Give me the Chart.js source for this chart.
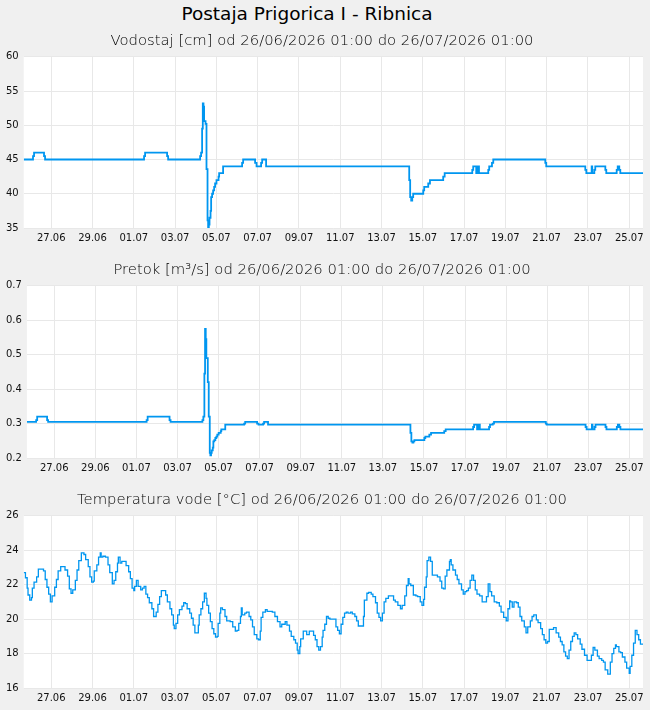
<!DOCTYPE html>
<html>
<head>
<meta charset="utf-8">
<script src="https://cdn.jsdelivr.net/npm/chart.js@4.4.1/dist/chart.umd.min.js"></script>
<style>
  body { margin: 0; background: #f0f0f0; font-family: "DejaVu Sans", sans-serif; }
  #main { width: 614px; height: 26px; line-height: 28px; text-align: center; font-size: 18.5px; color: #000; }
  canvas { display: block; }
</style>
</head>
<body>
<div id="main">Postaja Prigorica I - Ribnica</div>
<canvas id="levelChart" width="650" height="229"></canvas>
<canvas id="flowChart" width="650" height="230"></canvas>
<canvas id="tempChart" width="650" height="225"></canvas>
<script>
// hours since 26/06/2026 01:00
const tickHours = [32, 80, 128, 176, 224, 272, 320, 368, 416, 464, 512, 560, 608, 656, 704];
const tickLabels = ['27.06', '29.06', '01.07', '03.07', '05.07', '07.07', '09.07', '11.07',
                    '13.07', '15.07', '17.07', '19.07', '21.07', '23.07', '25.07'];

// step points: value holds from this hour until the next one
const levelHours = [0, 10.8, 12, 23.6, 24.8, 139.9, 141.1, 166.7, 167.9,
  205.1, 206.2, 207.4, 208.2, 209, 209.7, 211.4, 212.5, 213.7, 214.4,
  215.2, 216, 217.2, 217.9, 219, 220.2, 221.4, 222.5, 224.1, 226.5,
  227.2, 231.8, 253.9, 255.1, 269, 270.7, 276, 277.2, 281.8,
  448.2, 449.3, 450.5, 451.7, 452.8, 464.5, 465.6, 470.3, 472.3,
  487.7, 489.4, 521.5, 522.6, 526.1, 528.1, 529.3,
  540.1, 541.2, 544.4, 545.9, 606.4, 607.5,
  652.9, 654.1, 660.3, 661, 663.4, 664.5,
  676.2, 677.3, 689.4, 690.6, 692.4, 693.6, 720];

const levelValues = [45, 45.5, 46, 45.5, 45, 45.5, 46, 45.5, 45,
  45.5, 46, 49.5, 53.2, 52.7, 50.6, 50.2, 43.6, 36.1, 34.6,
  35.5, 36.5, 37.5, 39.5, 40, 40.5, 41, 41.5, 42, 42.5,
  43, 44, 44.5, 45, 44.5, 44, 44.5, 45, 44,
  42, 39.5, 39, 39.5, 40, 40.5, 41, 41.5, 42,
  42.5, 43, 43.5, 44, 43, 44, 43,
  43.5, 44, 44.5, 45, 44.5, 44,
  43.5, 43, 44, 43, 43.5, 44,
  43.5, 43, 43.5, 44, 43.5, 43, 43];

const flowValues = [0.305, 0.31, 0.32, 0.31, 0.305, 0.31, 0.32, 0.31, 0.305,
  0.31, 0.32, 0.445, 0.575, 0.545, 0.49, 0.42, 0.32, 0.215, 0.208,
  0.215, 0.222, 0.23, 0.248, 0.252, 0.258, 0.262, 0.268, 0.273, 0.278,
  0.283, 0.297, 0.3, 0.305, 0.3, 0.297, 0.3, 0.305, 0.297,
  0.273, 0.248, 0.245, 0.248, 0.252, 0.258, 0.262, 0.268, 0.273,
  0.278, 0.283, 0.29, 0.297, 0.283, 0.297, 0.283,
  0.29, 0.297, 0.3, 0.305, 0.3, 0.297,
  0.29, 0.283, 0.297, 0.283, 0.29, 0.297,
  0.29, 0.283, 0.29, 0.297, 0.29, 0.283, 0.283];

// [hour, °C]
const tempPoints = [
  [0,22.7],[2,22.4],[4,21.8],[5,21.4],[7,21.1],[9,21.25],[10,21.8],[12,22.15],[15,22.45],[17,22.9],
  [21,22.9],[23,22.8],[25,22.3],[27,21.85],[29,21.45],[31,21.0],[33,21.35],[36,21.85],[38,22.3],[40,22.8],
  [43,23.05],[46,23.05],[48,22.85],[51,22.5],[53,21.75],[55,21.5],[57,21.7],[60,22.25],[62,22.85],[64,23.4],
  [67,23.85],[70,23.75],[72,23.45],[75,23.05],[77,22.45],[79,22.15],[81,22.2],[82,22.8],[85,23.15],[87,23.6],
  [89,23.85],[90,23.6],[92,23.65],[95,23.6],[98,23.15],[100,22.7],[103,22.05],[105,22.25],[107,22.75],[109,23.25],
  [110,23.6],[112,23.25],[114,23.35],[117,23.35],[119,23.1],[122,22.75],[124,22.35],[126,21.8],[128,21.65],[129,21.9],
  [131,22.25],[133,21.9],[136,21.7],[138,21.8],[140,21.9],[142,21.45],[144,21.25],[146,20.95],[149,20.6],[151,20.15],
  [154,20.4],[156,20.85],[158,21.3],[160,21.65],[163,21.65],[165,21.4],[167,21.0],[170,20.6],[172,20.25],[174,19.65],
  [175,19.45],[177,19.75],[179,20.25],[181,20.55],[184,20.75],[186,20.95],[188,20.9],[190,20.6],[193,20.35],[195,20.05],
  [197,19.65],[199,19.2],[201,19.2],[203,19.65],[204,20.25],[206,20.6],[208,21.0],[210,21.5],[212,21.2],[213,20.8],
  [215,20.35],[217,19.85],[219,19.45],[221,19.15],[223,18.95],[225,19.0],[226,19.75],[228,20.35],[229,20.65],[231,20.55],
  [234,20.15],[236,19.9],[240,19.85],[243,19.55],[246,19.3],[248,19.35],[250,19.75],[252,20.15],[253,20.65],[254,20.25],
  [257,20.35],[259,20.4],[262,20.15],[264,19.95],[266,19.55],[268,19.1],[271,18.85],[273,18.8],[275,19.3],[276,20.1],
  [278,20.4],[281,20.55],[283,20.45],[286,20.45],[289,20.4],[292,20.15],[295,19.85],[298,19.55],[300,19.7],[304,19.85],
  [306,19.65],[309,19.3],[311,19.0],[314,18.8],[316,18.6],[318,18.2],[319,18.0],[321,18.4],[322,18.85],[325,19.3],
  [327,19.3],[329,19.1],[332,19.3],[334,19.3],[337,19.05],[339,18.8],[341,18.4],[343,18.2],[345,18.4],[347,18.95],
  [348,19.35],[350,19.7],[352,20.15],[354,20.05],[356,20.0],[360,20.0],[363,19.55],[365,19.35],[367,19.15],[369,19.7],
  [371,20.1],[373,20.35],[375,20.4],[377,20.35],[380,20.4],[382,20.3],[385,20.15],[387,19.9],[389,19.6],[392,19.6],
  [395,20.15],[396,21.1],[399,21.5],[401,21.55],[404,21.45],[406,21.3],[409,20.95],[411,20.35],[413,20.1],[415,19.9],
  [417,20.35],[419,21.0],[421,21.2],[424,21.35],[427,21.35],[430,21.1],[432,21.0],[435,20.8],[438,20.6],[440,20.8],
  [443,21.35],[445,21.95],[447,22.35],[448,22.05],[450,21.95],[453,21.4],[456,21.35],[458,21.3],[461,21.0],[463,20.8],
  [465,21.15],[466,21.85],[468,22.45],[469,23.4],[471,23.6],[473,23.35],[475,22.55],[478,22.55],[481,22.45],[484,22.2],
  [486,21.8],[488,21.75],[490,22.5],[492,22.85],[495,23.35],[496,23.45],[497,23.15],[499,22.85],[502,22.55],[504,22.3],
  [506,22.05],[509,21.7],[511,21.45],[513,21.6],[515,21.65],[517,21.8],[519,22.25],[521,22.55],[523,22.25],[525,21.7],
  [527,21.45],[530,21.35],[533,21.0],[536,21.0],[538,21.3],[540,22.05],[542,21.6],[544,21.35],[547,21.0],[550,20.95],
  [553,20.75],[555,20.4],[558,20.1],[561,19.9],[563,20.6],[565,21.05],[566,21.0],[568,20.7],[570,21.0],[573,20.95],
  [575,20.7],[577,20.15],[579,19.9],[582,19.55],[584,19.2],[586,19.55],[589,19.9],[591,20.15],[593,20.25],[596,19.95],
  [598,19.8],[601,19.45],[603,19.1],[605,18.8],[607,18.6],[609,18.7],[611,19.4],[614,19.4],[616,19.5],[619,19.2],
  [622,18.95],[624,18.7],[626,18.5],[628,18.1],[630,17.85],[632,17.7],[634,18.2],[636,18.7],[638,19.0],[640,19.2],
  [642,19.1],[644,18.85],[647,18.55],[649,18.25],[652,17.9],[655,17.6],[657,17.6],[660,17.9],[662,18.35],[664,18.2],
  [667,17.85],[669,17.7],[672,17.6],[674,17.5],[676,17.05],[679,16.8],[681,16.8],[682,17.5],[684,18.0],[686,18.3],
  [688,18.5],[689,18.4],[692,18.1],[694,18.05],[696,17.8],[699,17.5],[701,17.15],[704,16.85],[705,17.25],[707,17.9],
  [709,18.6],[711,19.35],[713,19.1],[715,18.8],[717,18.55],[720,18.55]
];

const lineColor = '#0096f0';
const gridColor = '#e8e8e8';

// white plot area on grey page
const plotBackground = {
  id: 'plotBackground',
  beforeDraw(chart) {
    const a = chart.chartArea;
    const ctx = chart.ctx;
    ctx.save();
    ctx.fillStyle = '#ffffff';
    ctx.fillRect(a.left, a.top, a.right - a.left, a.bottom - a.top);
    ctx.restore();
  }
};

function makeChart(id, title, points, yMin, yMax, yStep, width, bottomPad) {
  return new Chart(document.getElementById(id), {
    type: 'line',
    data: {
      datasets: [{
        data: points,
        borderColor: lineColor,
        borderWidth: width,
        pointRadius: 0,
        stepped: 'before',
        fill: false
      }]
    },
    options: {
      responsive: false,
      animation: false,
      layout: { padding: { left: 1, right: 7, top: 0, bottom: bottomPad } },
      scales: {
        x: {
          type: 'linear',
          min: 0,
          max: 720,
          afterBuildTicks: function(axis) {
            axis.ticks = tickHours.map(h => ({ value: h }));
          },
          ticks: {
            autoSkip: false,
            maxRotation: 0,
            padding: 4,
            color: '#111',
            font: { family: 'DejaVu Sans', size: 10 },
            callback: function(value) {
              const i = tickHours.indexOf(value);
              return i >= 0 ? tickLabels[i] : '';
            }
          },
          grid: { color: gridColor, drawTicks: false },
          border: { display: false }
        },
        y: {
          min: yMin,
          max: yMax,
          ticks: {
            stepSize: yStep,
            padding: 5,
            color: '#111',
            font: { family: 'DejaVu Sans', size: 10 }
          },
          grid: { color: gridColor, drawTicks: false },
          border: { display: false }
        }
      },
      plugins: {
        legend: { display: false },
        tooltip: { enabled: false },
        title: {
          display: true,
          text: title,
          color: '#000',
          padding: { top: 6, bottom: 7 },
          font: { family: 'DejaVu Sans', size: 14.8, weight: '300' }
        }
      }
    },
    plugins: [plotBackground]
  });
}

document.addEventListener('DOMContentLoaded', function() {
  const levelPoints = levelHours.map((h, i) => ({ x: h, y: levelValues[i] }));
  const flowPoints = levelHours.map((h, i) => ({ x: h, y: flowValues[i] }));
  const tempData = tempPoints.map(p => ({ x: p[0], y: p[1] }));

  makeChart('levelChart', 'Vodostaj [cm] od 26/06/2026 01:00 do 26/07/2026 01:00',
    levelPoints, 35, 60, 5, 1.8, 7);
  makeChart('flowChart', 'Pretok [m³/s] od 26/06/2026 01:00 do 26/07/2026 01:00',
    flowPoints, 0.2, 0.7, 0.1, 1.8, 7);
  makeChart('tempChart', 'Temperatura vode [°C] od 26/06/2026 01:00 do 26/07/2026 01:00',
    tempData, 16, 26, 2, 1.3, 2);
});
</script>
</body>
</html>
